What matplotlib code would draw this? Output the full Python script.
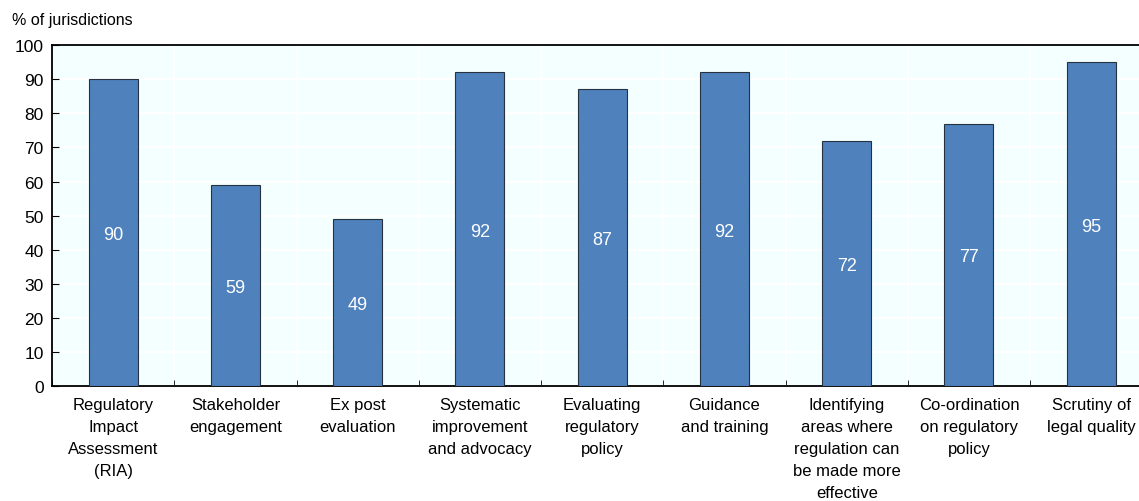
import matplotlib
matplotlib.use("Agg")
import matplotlib.pyplot as plt
import numpy as np

# Datos
categorias = ["Regulatory\nImpact\nAssessment\n(RIA)", "Stakeholder\nengagement",
              "Ex post\nevaluation", "Systematic\nimprovement\nand advocacy",
              "Evaluating\nregulatory\npolicy", "Guidance\nand training",
              "Identifying\nareas where\nregulation can\nbe made more\neffective",
              "Co-ordination\non regulatory\npolicy", "Scrutiny of\nlegal quality"]
valores = [90, 59, 49, 92, 87, 92, 72, 77, 95]

plt.rcParams["font.family"] = ["Liberation Sans", "DejaVu Sans"]

fig = plt.figure(figsize=(11.39, 5.02), dpi=100)
# el eje se sale un poco por la derecha, como en el original
ax = fig.add_axes([0.0457, 0.229, 0.966, 0.679])
ax.set_facecolor("#F4FFFF")

x = np.arange(len(valores))
ax.bar(x, valores, width=0.4, color="#4F81BD", edgecolor="#26323F", linewidth=0.8, zorder=3)

# Etiquetas dentro de las barras
for xi, v in zip(x, valores):
    ax.text(xi, v / 2, str(v), color="white", ha="center", va="center_baseline", fontsize=13, zorder=4)

ax.set_xlim(-0.5, len(valores) - 0.5)
ax.set_ylim(0, 100)
ax.set_yticks(range(0, 101, 10))
ax.set_xticks(x)
ax.set_xticklabels(categorias, fontsize=12, linespacing=1.58)
ax.tick_params(axis="x", length=0, pad=8)
ax.set_xticks(np.arange(-0.5, len(valores)), minor=True)
ax.tick_params(axis="x", which="minor", direction="in", length=4, color="black")
ax.tick_params(axis="y", direction="in", length=5, labelsize=12.5, pad=6)

# Cuadricula blanca
ax.grid(True, axis="y", color="white", linewidth=1.5, zorder=1)
ax.grid(True, axis="x", which="minor", color="white", linewidth=1.5, zorder=1)

for lado in ["top", "left", "bottom"]:
    ax.spines[lado].set_color("black")
    ax.spines[lado].set_linewidth(1.3)
ax.spines["right"].set_visible(False)

fig.text(0.0105, 0.96, "% of jurisdictions", fontsize=11.5, ha="left", va="center")

plt.savefig("out.png", dpi=100)
